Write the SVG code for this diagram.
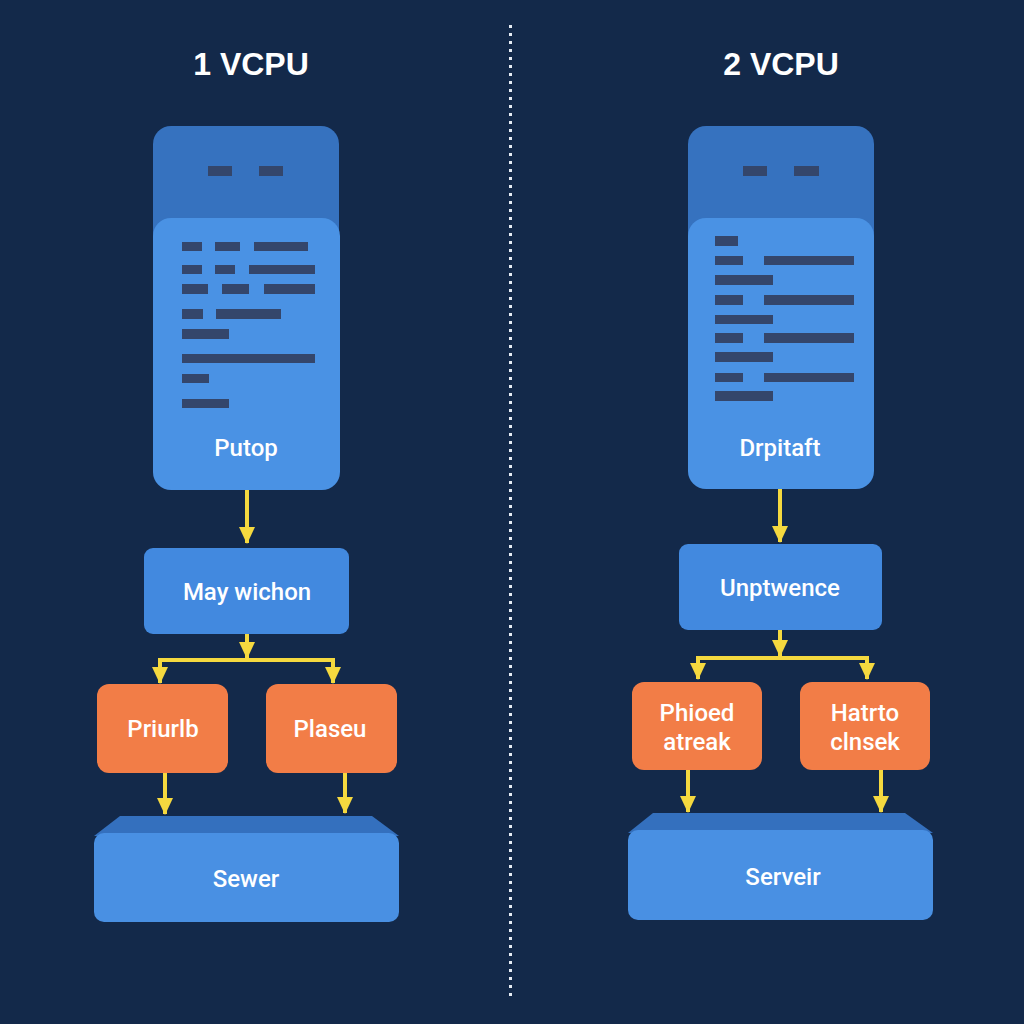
<svg xmlns="http://www.w3.org/2000/svg" width="1024" height="1024" viewBox="0 0 1024 1024">
<defs>
<style>
.title{font-family:"Liberation Sans",Arial,sans-serif;font-weight:bold;font-size:32px;fill:#ffffff;text-anchor:middle}
.lbl{font-family:Roboto,"Liberation Sans",sans-serif;font-weight:500;font-size:24px;fill:#ffffff;text-anchor:middle}
.head{fill:#3672BF}
.body{fill:#4A92E4}
.bar{fill:#34466B}
.mid{fill:#4289DF}
.org{fill:#F27D47}
.stop{fill:#3470BE}
.face{fill:#4990E3}
.conn{stroke:#F5D93F;stroke-width:4;fill:none}
</style>
<marker id="ah" viewBox="0 0 17 16" refX="16" refY="8" markerWidth="17" markerHeight="16" markerUnits="userSpaceOnUse" orient="auto">
<path d="M0,0 L17,8 L0,16 z" fill="#F5D93F"/>
</marker>
</defs>
<rect width="1024" height="1024" fill="#13294A"/>
<line x1="510.5" y1="25" x2="510.5" y2="1000" stroke="#E6ECF4" stroke-width="3" stroke-dasharray="3 5"/>
<text class="title" x="251" y="75">1 VCPU</text>
<text class="title" x="781" y="75">2 VCPU</text>

<g id="connectors">
<path class="conn" d="M247,490 V543" marker-end="url(#ah)"/>
<path class="conn" d="M247,634 V658" marker-end="url(#ah)"/>
<path class="conn" d="M160,683 V660 H333 V683" marker-end="url(#ah)"/>
<path class="conn" d="M160,662 V683" marker-end="url(#ah)"/>
<path class="conn" d="M165,773 V814" marker-end="url(#ah)"/>
<path class="conn" d="M345,773 V813" marker-end="url(#ah)"/>
<path class="conn" d="M780,489 V542" marker-end="url(#ah)"/>
<path class="conn" d="M780,630 V656" marker-end="url(#ah)"/>
<path class="conn" d="M698,679 V658 H867 V679" marker-end="url(#ah)"/>
<path class="conn" d="M698,660 V679" marker-end="url(#ah)"/>
<path class="conn" d="M688,770 V812" marker-end="url(#ah)"/>
<path class="conn" d="M881,770 V812" marker-end="url(#ah)"/>
</g>

<g id="putop">
<rect class="head" x="153" y="126" width="186" height="140" rx="18"/>
<rect class="bar" x="208" y="166" width="24" height="10"/>
<rect class="bar" x="259" y="166" width="24" height="10"/>
<rect class="body" x="153" y="218" width="187" height="272" rx="18"/>
<rect class="bar" x="182" y="242" width="20" height="9"/>
<rect class="bar" x="215" y="242" width="25" height="9"/>
<rect class="bar" x="254" y="242" width="54" height="9"/>
<rect class="bar" x="182" y="265" width="20" height="9"/>
<rect class="bar" x="215" y="265" width="20" height="9"/>
<rect class="bar" x="249" y="265" width="66" height="9"/>
<rect class="bar" x="182" y="284" width="26" height="10"/>
<rect class="bar" x="222" y="284" width="27" height="10"/>
<rect class="bar" x="264" y="284" width="51" height="10"/>
<rect class="bar" x="182" y="309" width="21" height="10"/>
<rect class="bar" x="216" y="309" width="65" height="10"/>
<rect class="bar" x="182" y="329" width="47" height="10"/>
<rect class="bar" x="182" y="354" width="133" height="9"/>
<rect class="bar" x="182" y="374" width="27" height="9"/>
<rect class="bar" x="182" y="399" width="47" height="9"/>
<text class="lbl" x="246" y="456">Putop</text>
</g>

<g id="drpitaft">
<rect class="head" x="688" y="126" width="186" height="140" rx="18"/>
<rect class="bar" x="743" y="166" width="24" height="10"/>
<rect class="bar" x="794" y="166" width="25" height="10"/>
<rect class="body" x="688" y="218" width="186" height="271" rx="18"/>
<rect class="bar" x="715" y="236" width="23" height="10"/>
<rect class="bar" x="715" y="256" width="28" height="9"/>
<rect class="bar" x="764" y="256" width="90" height="9"/>
<rect class="bar" x="715" y="275" width="58" height="10"/>
<rect class="bar" x="715" y="295" width="28" height="10"/>
<rect class="bar" x="764" y="295" width="90" height="10"/>
<rect class="bar" x="715" y="315" width="58" height="9"/>
<rect class="bar" x="715" y="333" width="28" height="10"/>
<rect class="bar" x="764" y="333" width="90" height="10"/>
<rect class="bar" x="715" y="352" width="58" height="10"/>
<rect class="bar" x="715" y="373" width="28" height="9"/>
<rect class="bar" x="764" y="373" width="90" height="9"/>
<rect class="bar" x="715" y="391" width="58" height="10"/>
<text class="lbl" x="780" y="456">Drpitaft</text>
</g>

<g id="may-wichon">
<rect class="mid" x="144" y="548" width="205" height="86" rx="9"/>
<text class="lbl" x="247" y="600">May wichon</text>
</g>
<g id="unptwence">
<rect class="mid" x="679" y="544" width="203" height="86" rx="9"/>
<text class="lbl" x="780" y="596">Unptwence</text>
</g>

<g id="priurlb">
<rect class="org" x="97" y="684" width="131" height="89" rx="12"/>
<text class="lbl" x="163" y="737">Priurlb</text>
</g>
<g id="plaseu">
<rect class="org" x="266" y="684" width="131" height="89" rx="12"/>
<text class="lbl" x="330" y="737">Plaseu</text>
</g>
<g id="phioed-atreak">
<rect class="org" x="632" y="682" width="130" height="88" rx="12"/>
<text class="lbl" x="697" y="721">Phioed</text>
<text class="lbl" x="697" y="750">atreak</text>
</g>
<g id="hatrto-clnsek">
<rect class="org" x="800" y="682" width="130" height="88" rx="12"/>
<text class="lbl" x="865" y="721">Hatrto</text>
<text class="lbl" x="865" y="750">clnsek</text>
</g>

<g id="sewer">
<polygon class="stop" points="120,816 372,816 399,836 94,836"/>
<rect class="face" x="94" y="833" width="305" height="89" rx="10"/>
<text class="lbl" x="246" y="887">Sewer</text>
</g>
<g id="serveir">
<polygon class="stop" points="653,813 905,813 933,833 628,833"/>
<rect class="face" x="628" y="830" width="305" height="90" rx="10"/>
<text class="lbl" x="783" y="885">Serveir</text>
</g>
</svg>
